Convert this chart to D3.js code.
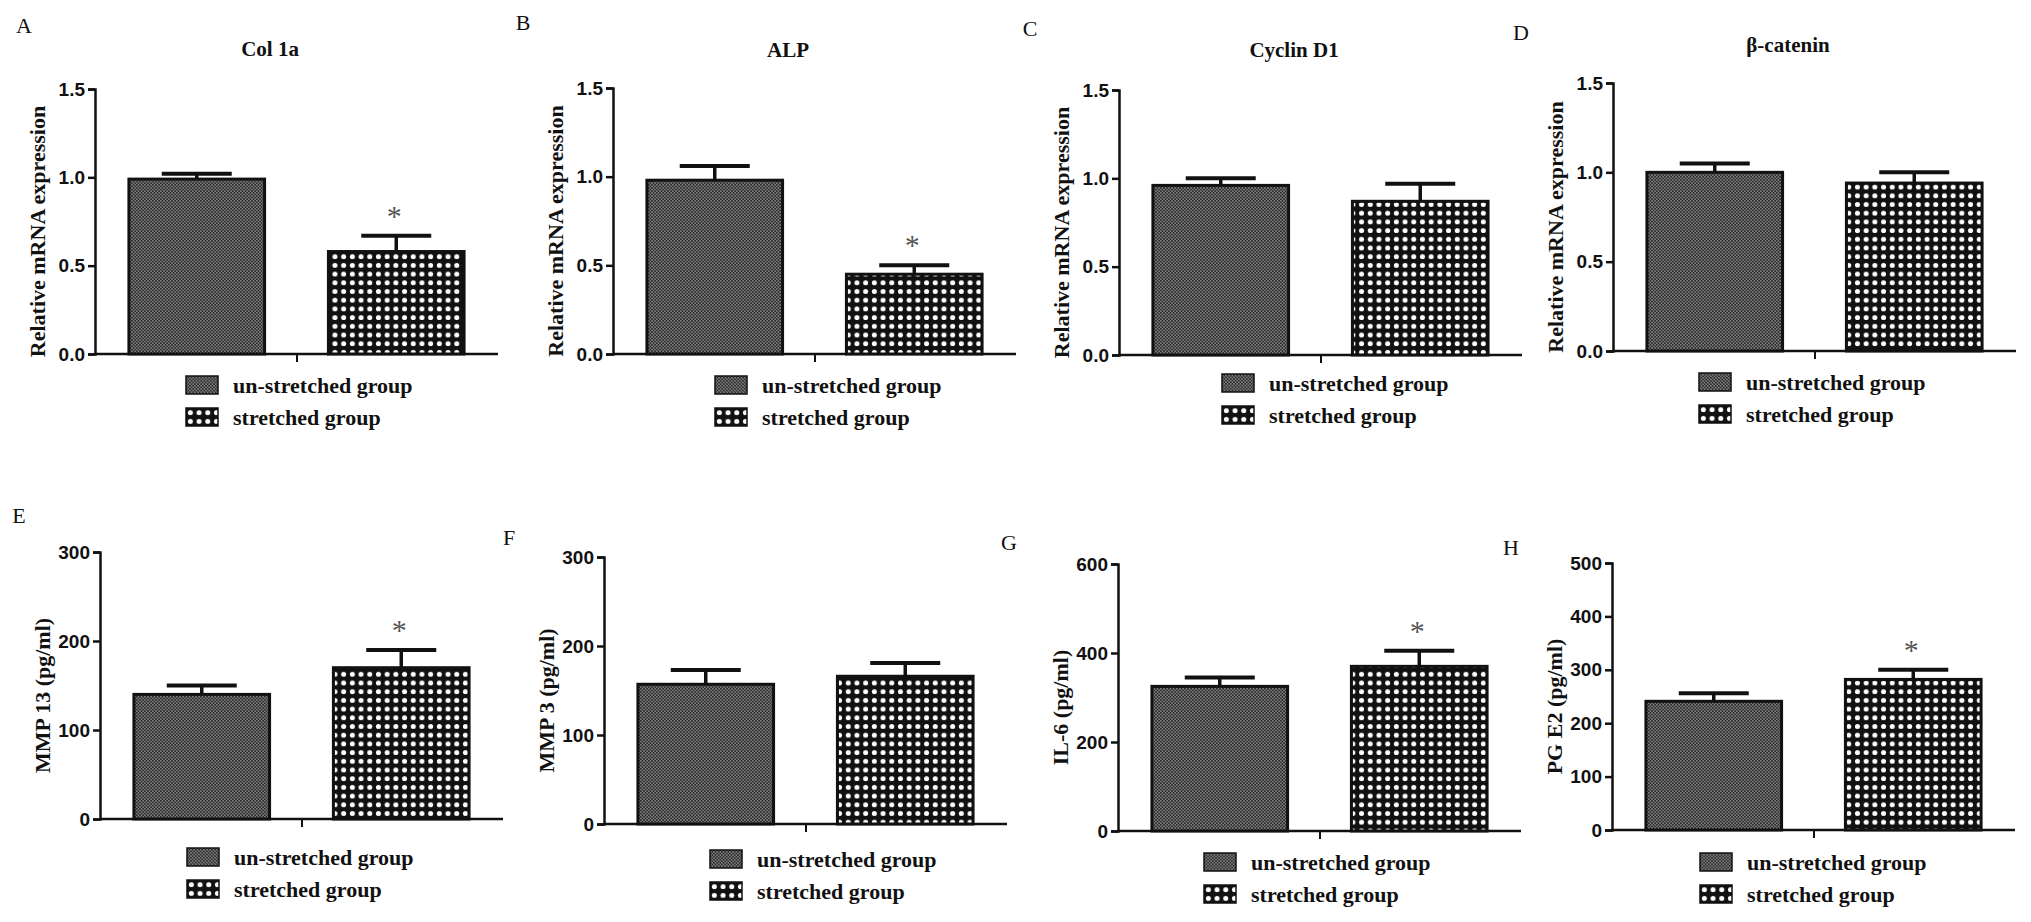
<!DOCTYPE html>
<html>
<head>
<meta charset="utf-8">
<script src="https://d3js.org/d3.v7.min.js"></script>
<style>
  body { margin: 0; background: #fff; }
  svg text { fill: #111; }
  .tick text { font-family: "Liberation Sans", Arial, sans-serif; font-weight: bold; font-size: 19px; }
  .serif { font-family: "Liberation Serif", "Times New Roman", serif; }
</style>
</head>
<body>
<svg id="fig" width="2031" height="922"></svg>
<script>
// ---- data ----
var groups = ["un-stretched group", "stretched group"];
var letters = ["A", "B", "C", "D", "E", "F", "G", "H"];
var titles = ["Col 1a", "ALP", "Cyclin D1", "\u03b2-catenin", "", "", "", ""];
var yTitles = ["Relative mRNA expression", "Relative mRNA expression", "Relative mRNA expression",
  "Relative mRNA expression", "MMP 13 (pg/ml)", "MMP 3 (pg/ml)", "IL-6 (pg/ml)", "PG E2 (pg/ml)"];
var yMax = [1.5, 1.5, 1.5, 1.5, 300, 300, 600, 500];
var yStep = [0.5, 0.5, 0.5, 0.5, 100, 100, 200, 100];
var meanUnstretched = [0.99, 0.98, 0.96, 1.00, 140, 157, 325, 241];
var errUnstretched = [0.03, 0.08, 0.04, 0.05, 10, 16, 20, 15];
var meanStretched = [0.58, 0.45, 0.87, 0.94, 170, 166, 370, 282];
var errStretched = [0.09, 0.05, 0.10, 0.06, 20, 15, 35, 18];
var significant = [true, true, false, false, true, false, true, true];

// ---- layout of each panel (axis x, top, bottom, letter position, legend position) ----
var layout = [
  {x0: 95,   top: 89,  bottom: 354, lx: 24,   ly: 33,  ty: 56, legX: 91,  legY: 385},
  {x0: 613,  top: 88,  bottom: 354, lx: 523,  ly: 30,  ty: 57, legX: 102, legY: 385},
  {x0: 1119, top: 90,  bottom: 355, lx: 1030, ly: 36,  ty: 57, legX: 103, legY: 383},
  {x0: 1613, top: 83,  bottom: 351, lx: 1521, ly: 40,  ty: 52, legX: 86,  legY: 382},
  {x0: 100,  top: 552, bottom: 819, lx: 19,   ly: 523, ty: 0,  legX: 87,  legY: 857},
  {x0: 604,  top: 557, bottom: 824, lx: 509,  ly: 545, ty: 0,  legX: 106, legY: 859},
  {x0: 1118, top: 564, bottom: 831, lx: 1009, ly: 550, ty: 0,  legX: 86,  legY: 862},
  {x0: 1612, top: 563, bottom: 830, lx: 1511, ly: 555, ty: 0,  legX: 88,  legY: 862}
];

var svg = d3.select("#fig");
var defs = svg.append("defs");

// fine dark-grey checker for un-stretched bars
var p1 = defs.append("pattern").attr("id", "pat0").attr("patternUnits", "userSpaceOnUse")
  .attr("width", 3.2).attr("height", 3.2);
p1.append("rect").attr("width", 3.2).attr("height", 3.2).attr("fill", "#7c7c7c");
p1.append("rect").attr("width", 1.6).attr("height", 1.6).attr("fill", "#2b2b2b");
p1.append("rect").attr("x", 1.6).attr("y", 1.6).attr("width", 1.6).attr("height", 1.6).attr("fill", "#2b2b2b");

// black with white dots for stretched bars
var p2 = defs.append("pattern").attr("id", "pat1").attr("patternUnits", "userSpaceOnUse")
  .attr("width", 8.7).attr("height", 8.7);
p2.append("rect").attr("width", 8.7).attr("height", 8.7).attr("fill", "#111");
p2.append("circle").attr("cx", 4.35).attr("cy", 4.35).attr("r", 2.5).attr("fill", "#fff");

var fills = ["url(#pat0)", "url(#pat1)"];

letters.forEach(function(letter, i) {
  var L = layout[i];
  var g = svg.append("g");

  var x = d3.scaleBand().domain(groups).range([L.x0, L.x0 + 403])
    .paddingInner(0.32).paddingOuter(0.17);
  var y = d3.scaleLinear().domain([0, yMax[i]]).range([L.bottom, L.top]);

  var ticks = d3.range(0, yMax[i] + yStep[i] / 2, yStep[i]);
  var yAxis = d3.axisLeft(y).tickValues(ticks).tickSize(7).tickPadding(3)
    .tickFormat(yMax[i] < 10 ? d3.format(".1f") : d3.format("d"));
  var ga = g.append("g").attr("transform", "translate(" + L.x0 + ",0)").call(yAxis);
  ga.select(".domain").attr("stroke", "#111").attr("stroke-width", 2.5);
  ga.selectAll(".tick line").attr("stroke", "#111").attr("stroke-width", 2.5);

  // x axis baseline with a small mark between the bars
  g.append("line").attr("x1", L.x0).attr("x2", L.x0 + 403)
    .attr("y1", L.bottom).attr("y2", L.bottom).attr("stroke", "#111").attr("stroke-width", 2.5);
  g.append("line").attr("x1", L.x0 + 202).attr("x2", L.x0 + 202)
    .attr("y1", L.bottom).attr("y2", L.bottom + 8).attr("stroke", "#111").attr("stroke-width", 2);

  var rows = groups.map(function(grp, k) {
    return {
      grp: grp, k: k,
      mean: k === 0 ? meanUnstretched[i] : meanStretched[i],
      err: k === 0 ? errUnstretched[i] : errStretched[i]
    };
  });

  // error bars (upper only)
  rows.forEach(function(d) {
    var cx = x(d.grp) + x.bandwidth() / 2;
    g.append("line").attr("x1", cx).attr("x2", cx)
      .attr("y1", y(d.mean)).attr("y2", y(d.mean + d.err))
      .attr("stroke", "#111").attr("stroke-width", 3.5);
    g.append("line").attr("x1", cx - 35).attr("x2", cx + 35)
      .attr("y1", y(d.mean + d.err)).attr("y2", y(d.mean + d.err))
      .attr("stroke", "#111").attr("stroke-width", 4);
  });

  g.selectAll("rect.bar").data(rows).enter().append("rect")
    .attr("class", "bar")
    .attr("x", function(d) { return x(d.grp); })
    .attr("width", x.bandwidth())
    .attr("y", function(d) { return y(d.mean); })
    .attr("height", function(d) { return L.bottom - y(d.mean); })
    .attr("fill", function(d) { return fills[d.k]; })
    .attr("stroke", "#111").attr("stroke-width", 3);

  if (significant[i]) {
    var s = rows[1];
    g.append("text").attr("class", "serif")
      .attr("x", x(s.grp) + x.bandwidth() / 2 - 2)
      .attr("y", y(s.mean + s.err) - 10)
      .attr("text-anchor", "middle")
      .style("font-size", "30px").style("fill", "#555")
      .text("*");
  }

  // panel letter
  g.append("text").attr("class", "serif").attr("x", L.lx).attr("y", L.ly)
    .attr("text-anchor", "middle").style("font-size", "22px").text(letter);

  if (titles[i]) {
    g.append("text").attr("class", "serif").attr("x", L.x0 + 175).attr("y", L.ty)
      .attr("text-anchor", "middle").style("font-size", "21px").style("font-weight", "bold")
      .text(titles[i]);
  }

  g.append("text").attr("class", "serif")
    .attr("transform", "translate(" + (L.x0 - 50) + "," + ((L.top + L.bottom) / 2 + 10) + ") rotate(-90)")
    .attr("text-anchor", "middle").style("font-size", "22px").style("font-weight", "bold")
    .text(yTitles[i]);

  // legend
  var lg = g.append("g").selectAll("g").data(groups).enter().append("g")
    .attr("transform", function(d, k) {
      return "translate(" + (L.x0 + L.legX) + "," + (L.legY + k * 32) + ")";
    });
  lg.append("rect").attr("x", 0).attr("y", -9).attr("width", 32).attr("height", 18)
    .attr("fill", function(d, k) { return fills[k]; })
    .attr("stroke", "#111").attr("stroke-width", 1.5);
  lg.append("text").attr("class", "serif").attr("x", 47).attr("y", 8)
    .style("font-size", "22px").style("font-weight", "bold")
    .text(function(d) { return d; });
});
</script>
</body>
</html>
